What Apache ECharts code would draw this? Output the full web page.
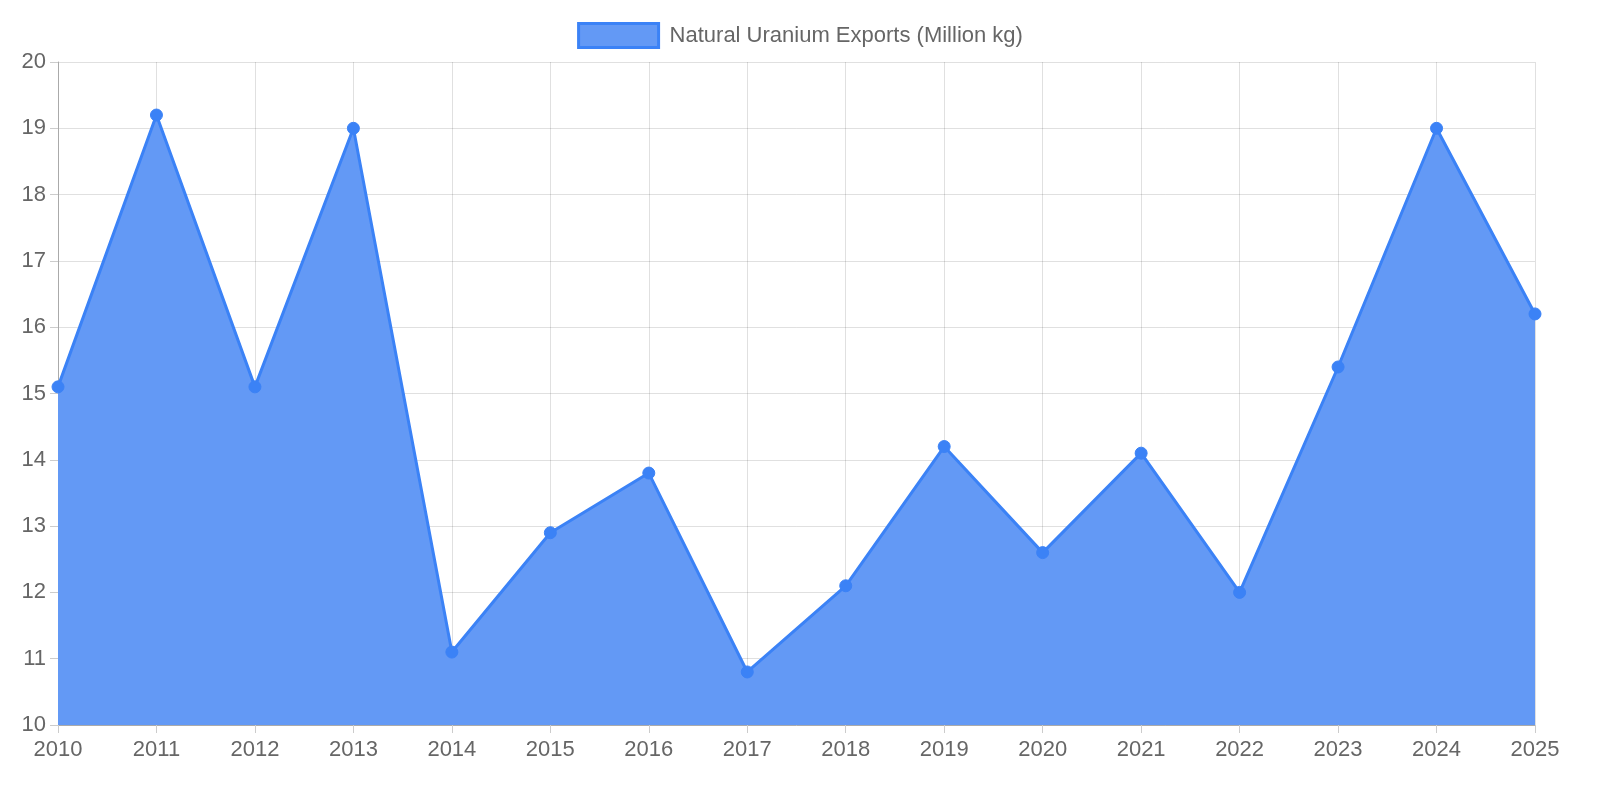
<!DOCTYPE html>
<html><head><meta charset="utf-8">
<script src="https://cdn.jsdelivr.net/npm/echarts@6/dist/echarts.min.js"></script>
<style>html,body{margin:0;padding:0;background:#fff}#c{width:1600px;height:800px}</style>
</head><body><div id="c"></div>
<script>
const years = ['2010','2011','2012','2013','2014','2015','2016','2017','2018','2019','2020','2021','2022','2023','2024','2025'];
const exports = [15.1,19.2,15.1,19.0,11.1,12.9,13.8,10.8,12.1,14.2,12.6,14.1,12.0,15.4,19.0,16.2];
const seriesName = 'Natural Uranium Exports (Million kg)';
const chart = echarts.init(document.getElementById('c'));
const font = 'Liberation Sans, Arial, sans-serif';
chart.setOption({
  animation:false,
  legend:{top:17,left:'center',itemWidth:80,itemHeight:24,
    textStyle:{fontFamily:font,fontSize:22,color:'#666',padding:[0,0,0,6]},
    data:[{name:seriesName,icon:'rect',itemStyle:{color:'#6399f5',borderColor:'#3b82f6',borderWidth:3}}]},
  grid:{left:58,right:65,top:62,bottom:75},
  xAxis:{type:'category',data:years,boundaryGap:false,
    axisLine:{lineStyle:{color:'#aaa'}},
    axisTick:{show:true,length:8,lineStyle:{color:'#ccc'}},
    axisLabel:{fontFamily:font,fontSize:22,color:'#666',margin:14},
    splitLine:{show:true,lineStyle:{color:'rgba(0,0,0,0.12)'}}},
  yAxis:{type:'value',min:10,max:20,interval:1,
    axisLine:{show:true,lineStyle:{color:'#aaa'}},
    axisTick:{show:true,length:8,lineStyle:{color:'#ccc'}},
    axisLabel:{fontFamily:font,fontSize:22,color:'#666',margin:12},
    splitLine:{show:true,lineStyle:{color:'rgba(0,0,0,0.12)'}}},
  series:[{name:seriesName,type:'line',data:exports,symbol:'circle',symbolSize:12,
    lineStyle:{color:'#3b82f6',width:3},
    itemStyle:{color:'#3b82f6',borderColor:'#3b82f6'},
    areaStyle:{color:'#6399f5',opacity:1,origin:'start'}}]
});
</script></body></html>
